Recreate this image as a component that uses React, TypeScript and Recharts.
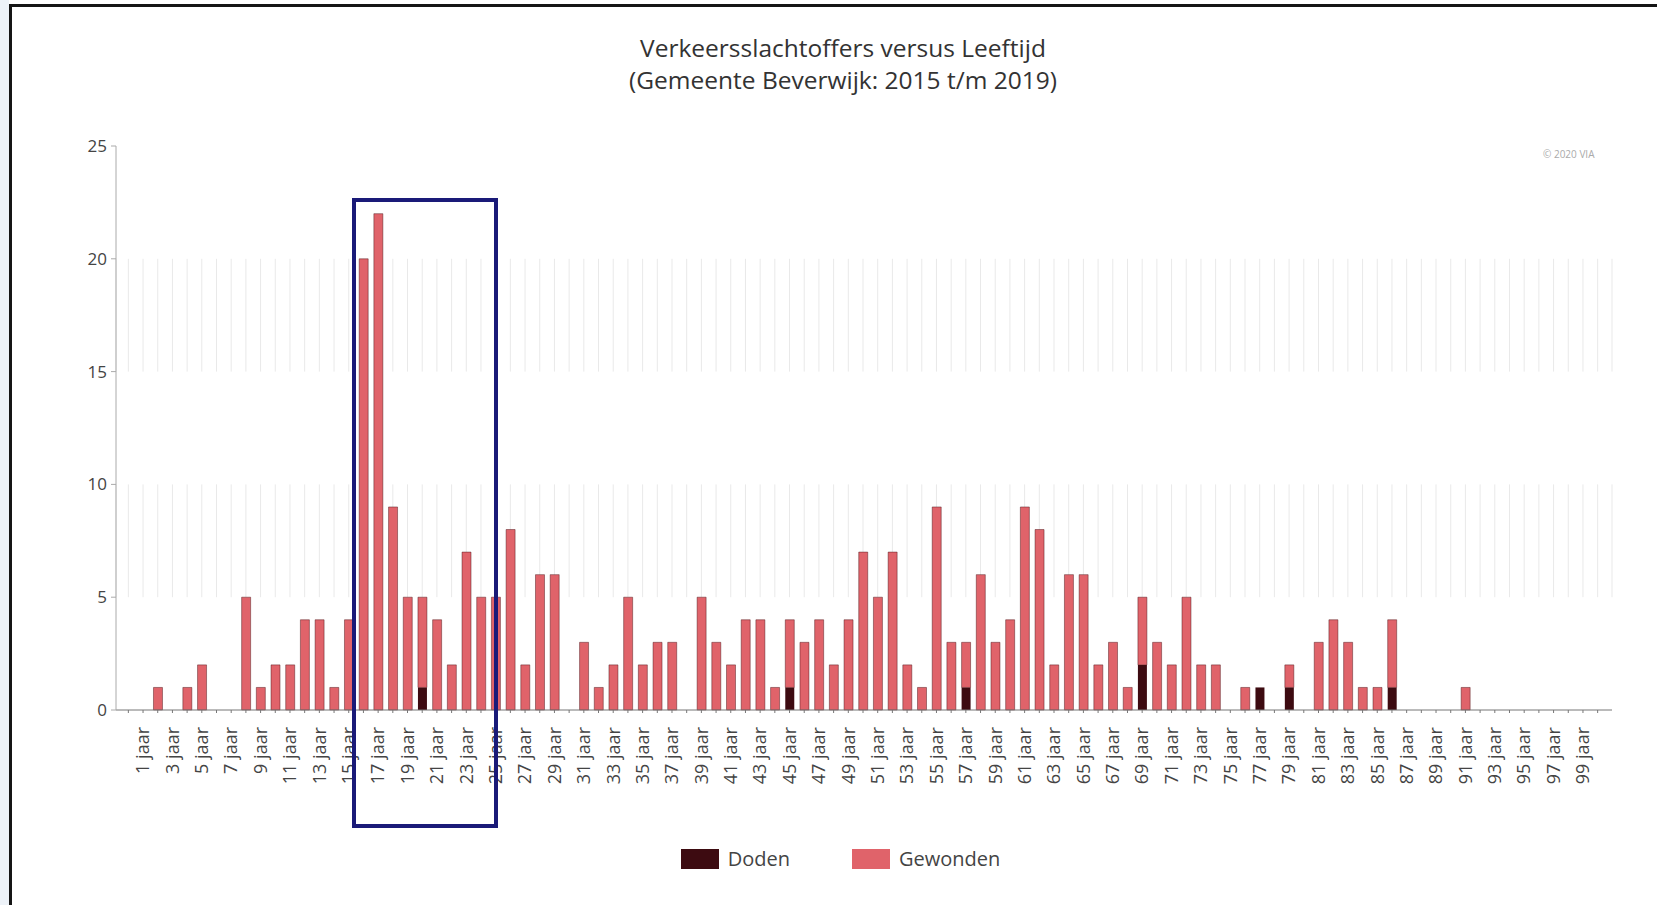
import { BarChart, Bar, XAxis, YAxis, CartesianGrid } from 'recharts';

// leeftijden 0 t/m 100 jaar
const AGES = [
  0, 1, 2, 3, 4, 5, 6, 7, 8, 9,
  10, 11, 12, 13, 14, 15, 16, 17, 18, 19,
  20, 21, 22, 23, 24, 25, 26, 27, 28, 29,
  30, 31, 32, 33, 34, 35, 36, 37, 38, 39,
  40, 41, 42, 43, 44, 45, 46, 47, 48, 49,
  50, 51, 52, 53, 54, 55, 56, 57, 58, 59,
  60, 61, 62, 63, 64, 65, 66, 67, 68, 69,
  70, 71, 72, 73, 74, 75, 76, 77, 78, 79,
  80, 81, 82, 83, 84, 85, 86, 87, 88, 89,
  90, 91, 92, 93, 94, 95, 96, 97, 98, 99,
  100,
];

const GEWONDEN = [
  0, 0, 1, 0, 1, 2, 0, 0, 5, 1,
  2, 2, 4, 4, 1, 4, 20, 22, 9, 5,
  4, 4, 2, 7, 5, 5, 8, 2, 6, 6,
  0, 3, 1, 2, 5, 2, 3, 3, 0, 5,
  3, 2, 4, 4, 1, 3, 3, 4, 2, 4,
  7, 5, 7, 2, 1, 9, 3, 2, 6, 3,
  4, 9, 8, 2, 6, 6, 2, 3, 1, 3,
  3, 2, 5, 2, 2, 0, 1, 0, 0, 1,
  0, 3, 4, 3, 1, 1, 3, 0, 0, 0,
  0, 1, 0, 0, 0, 0, 0, 0, 0, 0,
  0,
];

const DODEN = [
  0, 0, 0, 0, 0, 0, 0, 0, 0, 0,
  0, 0, 0, 0, 0, 0, 0, 0, 0, 0,
  1, 0, 0, 0, 0, 0, 0, 0, 0, 0,
  0, 0, 0, 0, 0, 0, 0, 0, 0, 0,
  0, 0, 0, 0, 0, 1, 0, 0, 0, 0,
  0, 0, 0, 0, 0, 0, 0, 1, 0, 0,
  0, 0, 0, 0, 0, 0, 0, 0, 0, 2,
  0, 0, 0, 0, 0, 0, 0, 1, 0, 1,
  0, 0, 0, 0, 0, 0, 1, 0, 0, 0,
  0, 0, 0, 0, 0, 0, 0, 0, 0, 0,
  0,
];

const Y_TICKS = [0, 5, 10, 15, 20, 25];
const Y_MAX = 25;
// alleen in deze banden staan verticale hulplijnen
const GRID_BANDS = [
  [5, 10],
  [15, 20],
];

const SERIES = [
  { key: 'doden', name: 'Doden', color: '#3d0b11' },
  { key: 'gewonden', name: 'Gewonden', color: '#e0636a' },
];

const data = AGES.map((age, i) => ({
  label: `${age} jaar`,
  doden: DODEN[i],
  gewonden: GEWONDEN[i],
}));

const FONT = '"Open Sans", "DejaVu Sans", sans-serif';

function BandLine(props: any) {
  const { x1, y1, y2 } = props;
  const h = y2 - y1;
  const yAt = (v: number) => y1 + h * (1 - v / Y_MAX);
  return (
    <g>
      {GRID_BANDS.map(([lo, hi]) => (
        <line key={lo} x1={x1} x2={x1} y1={yAt(hi)} y2={yAt(lo)} stroke="#e9e9e9" strokeWidth={1} />
      ))}
    </g>
  );
}

function AgeTick(props: any) {
  const { x, y, payload } = props;
  const age = parseInt(payload.value, 10);
  if (age % 2 === 0) return <g />;
  const ty = y + 12;
  return (
    <text
      x={x}
      y={ty}
      dy="0.35em"
      textAnchor="end"
      transform={`rotate(-90, ${x}, ${ty})`}
      fontSize={18}
      fill="#444"
      fontFamily={FONT}
    >
      {payload.value}
    </text>
  );
}

export default function App() {
  return (
    <div
      style={{
        position: 'absolute',
        left: 0,
        top: 0,
        width: 1657,
        height: 905,
        background: '#fff',
        fontFamily: FONT,
        overflow: 'hidden',
      }}
    >
      <div style={{ position: 'absolute', left: 0, top: 0, width: 9, height: 905, background: '#edf2f8' }} />
      <div
        style={{
          position: 'absolute',
          left: 9,
          top: 4,
          right: 0,
          bottom: 0,
          borderTop: '3px solid #151515',
          borderLeft: '3px solid #151515',
        }}
      />

      <div
        style={{
          position: 'absolute',
          left: 443,
          width: 800,
          top: 32,
          textAlign: 'center',
          fontSize: 24.5,
          lineHeight: '32px',
          color: '#333',
        }}
      >
        Verkeersslachtoffers versus Leeftijd
        <br />
        (Gemeente Beverwijk: 2015 t/m 2019)
      </div>

      <div style={{ position: 'absolute', left: 1543, top: 147, fontSize: 10, color: '#aaa' }}>© 2020 VIA</div>

      <div style={{ position: 'absolute', left: 0, top: 0 }}>
        <BarChart
          width={1657}
          height={905}
          data={data}
          margin={{ top: 146, right: 45, left: 56, bottom: 105 }}
          barCategoryGap="21%"
        >
          <CartesianGrid horizontal={false} vertical={(p: any) => <BandLine key={p.key} {...p} />} />
          <XAxis
            dataKey="label"
            interval={0}
            height={90}
            padding={{ left: 5, right: 7 }}
            axisLine={{ stroke: '#777' }}
            tickLine={{ stroke: '#777' }}
            tickSize={3}
            tick={<AgeTick />}
          />
          <YAxis
            domain={[0, Y_MAX]}
            ticks={Y_TICKS}
            width={60}
            axisLine={{ stroke: '#aaa' }}
            tickLine={{ stroke: '#aaa' }}
            tickSize={5}
            tickMargin={4}
            tick={{ fontSize: 17, fill: '#444', fontFamily: FONT }}
          />
          {SERIES.map((s) => (
            <Bar
              key={s.key}
              dataKey={s.key}
              name={s.name}
              stackId="a"
              fill={s.color}
              stroke={s.key === 'gewonden' ? 'rgba(70,15,20,0.45)' : 'none'}
              strokeWidth={1}
              isAnimationActive={false}
            />
          ))}
        </BarChart>
      </div>

      <div
        style={{
          position: 'absolute',
          left: 352,
          top: 198,
          width: 146,
          height: 630,
          border: '4px solid #1a1a78',
          boxSizing: 'border-box',
        }}
      />

      <div
        style={{
          position: 'absolute',
          top: 845,
          left: 0,
          width: 1657,
          display: 'flex',
          justifyContent: 'center',
          paddingLeft: 24,
          boxSizing: 'border-box',
          fontSize: 20,
          color: '#444',
        }}
      >
        {SERIES.map((s) => (
          <div key={s.key} style={{ display: 'flex', alignItems: 'center', margin: '0 31px' }}>
            <span style={{ display: 'inline-block', width: 38, height: 20, background: s.color, marginRight: 9 }} />
            <span>{s.name}</span>
          </div>
        ))}
      </div>
    </div>
  );
}
